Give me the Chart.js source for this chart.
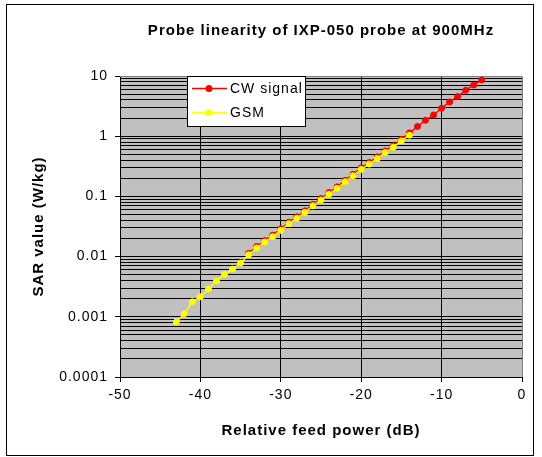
<!DOCTYPE html>
<html>
<head>
<meta charset="utf-8">
<script src="https://cdn.jsdelivr.net/npm/chart.js@4"></script>
<style>
  html, body { margin: 0; padding: 0; background: #ffffff; }
  #wrap { width: 542px; height: 457px; }
</style>
</head>
<body>
<div id="wrap"><canvas id="chart" width="542" height="457"></canvas></div>
<script>
// Relative feed power (dB) and SAR (W/kg)
const cwPower = [-34, -33, -32, -31, -30, -29, -28, -27, -26, -25, -24, -23, -22, -21, -20,
  -19, -18, -17, -16, -15, -14, -13, -12, -11, -10, -9, -8, -7, -6, -5];
const cwSar = [0.0113, 0.0147, 0.0185, 0.0227, 0.0289, 0.0373, 0.0458, 0.0575, 0.074, 0.0921,
  0.116, 0.144, 0.185, 0.233, 0.298, 0.365, 0.453, 0.569, 0.697, 0.886,
  1.135, 1.45, 1.84, 2.25, 2.91, 3.71, 4.55, 5.79, 7.1, 8.59];

const gsmPower = [-43, -42, -41, -40, -39, -38, -37, -36, -35, -34, -33, -32, -31, -30, -29,
  -28, -27, -26, -25, -24, -23, -22, -21, -20, -19, -18, -17, -16, -15, -14];
const gsmSar = [0.00082, 0.00112, 0.00177, 0.00216, 0.0029, 0.00394, 0.00508, 0.00622, 0.00783, 0.0107,
  0.0139, 0.0175, 0.0214, 0.0273, 0.0352, 0.0432, 0.0543, 0.0698, 0.0869, 0.109,
  0.136, 0.175, 0.22, 0.281, 0.344, 0.427, 0.537, 0.658, 0.836, 1.04];

// axis ticks
const xTicks = [-50, -40, -30, -20, -10, 0];
const yDecades = [0.0001, 0.001, 0.01, 0.1, 1, 10];

const seriesNames = ["CW signal", "GSM"];
const seriesColors = ["#ff0000", "#ffff00"];

const chartTitle = "Probe linearity of IXP-050 probe at 900MHz";
const xTitle = "Relative feed power (dB)";
const yTitle = "SAR value (W/kg)";

const FONT = "'Liberation Sans', Arial, sans-serif";

// y ticks: every decade plus 2..9 inside it (no 1.5 step)
const yTicks = [];
yDecades.forEach(function (d, i) {
  yTicks.push(d);
  if (i < yDecades.length - 1) {
    for (let m = 2; m <= 9; m++) yTicks.push(Number((d * m).toPrecision(2)));
  }
});

function isDecade(v) {
  return yDecades.some(function (d) { return Math.abs(v - d) < d * 1e-6; });
}

function toPoints(xs, ys) {
  return xs.map(function (x, i) { return { x: x, y: ys[i] }; });
}

// Plot background, borders, frame, title and legend box
const decorPlugin = {
  id: "decor",
  beforeDraw(chart) {
    const ctx = chart.ctx;
    const a = chart.chartArea;
    // the old spreadsheet text is spaced out a little
    ctx.letterSpacing = "1px";
    ctx.save();
    ctx.fillStyle = "#ffffff";
    ctx.fillRect(0, 0, chart.width, chart.height);
    ctx.fillStyle = "#c0c0c0";
    ctx.fillRect(a.left, a.top, a.right - a.left, a.bottom - a.top);
    // outer frame
    ctx.strokeStyle = "#000000";
    ctx.lineWidth = 1;
    ctx.strokeRect(6.5, 4.5, 527, 451);
    // title
    ctx.fillStyle = "#000000";
    ctx.font = "bold 15px " + FONT;
    ctx.textAlign = "center";
    ctx.textBaseline = "middle";
    ctx.fillText(chartTitle, (a.left + a.right) / 2, 31);
    ctx.restore();
  },
  beforeDatasetsDraw(chart) {
    const ctx = chart.ctx;
    const a = chart.chartArea;
    ctx.save();
    ctx.strokeStyle = "#808080";
    ctx.lineWidth = 1;
    ctx.beginPath();
    ctx.moveTo(a.left, Math.round(a.top) + 0.5);
    ctx.lineTo(Math.round(a.right) + 0.5, Math.round(a.top) + 0.5);
    ctx.lineTo(Math.round(a.right) + 0.5, a.bottom);
    ctx.stroke();
    ctx.restore();
  },
  afterDatasetsDraw(chart) {
    const ctx = chart.ctx;
    const a = chart.chartArea;
    const bx = a.left + 67, by = a.top, bw = 118, bh = 50;
    ctx.save();
    ctx.fillStyle = "#ffffff";
    ctx.fillRect(bx, by, bw, bh);
    ctx.strokeStyle = "#000000";
    ctx.lineWidth = 1;
    ctx.strokeRect(bx + 0.5, by + 0.5, bw, bh);
    ctx.font = "14px " + FONT;
    ctx.textBaseline = "middle";
    ctx.textAlign = "left";
    seriesNames.forEach(function (name, i) {
      const y = by + 12.5 + i * 24;
      ctx.strokeStyle = seriesColors[i];
      ctx.lineWidth = 1.5;
      ctx.beginPath();
      ctx.moveTo(bx + 5, y);
      ctx.lineTo(bx + 40, y);
      ctx.stroke();
      ctx.fillStyle = seriesColors[i];
      ctx.beginPath();
      ctx.arc(bx + 22, y, 3.5, 0, Math.PI * 2);
      ctx.fill();
      ctx.fillStyle = "#000000";
      ctx.fillText(name, bx + 43, y + 0.5);
    });
    ctx.restore();
  }
};

const ctx = document.getElementById("chart").getContext("2d");
const chart = new Chart(ctx, {
  type: "line",
  data: {
    datasets: [
      {
        label: seriesNames[0],
        data: toPoints(cwPower, cwSar),
        borderColor: seriesColors[0],
        backgroundColor: seriesColors[0],
        pointBackgroundColor: seriesColors[0],
        pointBorderColor: seriesColors[0],
        borderWidth: 1.5,
        pointRadius: 3,
        pointBorderWidth: 1,
        order: 1
      },
      {
        label: seriesNames[1],
        data: toPoints(gsmPower, gsmSar),
        borderColor: seriesColors[1],
        backgroundColor: seriesColors[1],
        pointBackgroundColor: seriesColors[1],
        pointBorderColor: seriesColors[1],
        borderWidth: 1.5,
        pointRadius: 3,
        pointBorderWidth: 1,
        order: 0
      }
    ]
  },
  options: {
    responsive: false,
    animation: false,
    layout: { padding: { left: 0, right: 20, top: 76, bottom: 0 } },
    plugins: {
      legend: { display: false },
      title: { display: false },
      tooltip: { enabled: false }
    },
    scales: {
      x: {
        type: "linear",
        min: -50,
        max: 0,
        afterBuildTicks: function (scale) {
          scale.ticks = xTicks.map(function (v) { return { value: v }; });
        },
        afterFit: function (scale) { scale.height = 80; },
        grid: {
          color: function (c) { return c.tick && c.tick.value === 0 ? "rgba(0,0,0,0)" : "#000000"; },
          tickColor: "#000000",
          tickLength: 5,
          lineWidth: 1
        },
        border: { display: true, color: "#000000", width: 1 },
        ticks: {
          color: "#000000",
          font: { family: FONT, size: 14 },
          padding: 5,
          maxRotation: 0,
          autoSkip: false
        },
        title: {
          display: true,
          text: xTitle,
          color: "#000000",
          font: { family: FONT, size: 15, weight: "bold" },
          padding: { top: 0, bottom: 17 }
        }
      },
      y: {
        type: "logarithmic",
        min: 0.0001,
        max: 10,
        afterBuildTicks: function (scale) {
          scale.ticks = yTicks.map(function (v) { return { value: v }; });
        },
        afterFit: function (scale) { scale.width = 120; },
        grid: {
          color: "#000000",
          tickColor: function (c) { return c.tick && isDecade(c.tick.value) ? "#000000" : "rgba(0,0,0,0)"; },
          tickLength: 5,
          lineWidth: 1
        },
        border: { display: true, color: "#000000", width: 1 },
        ticks: {
          color: "#000000",
          font: { family: FONT, size: 14 },
          padding: 7,
          autoSkip: false,
          callback: function (value) {
            return isDecade(value) ? String(Number(value.toPrecision(1))) : "";
          }
        },
        title: {
          display: true,
          text: yTitle,
          color: "#000000",
          font: { family: FONT, size: 15, weight: "bold" },
          padding: { top: 30, bottom: 0 }
        }
      }
    }
  },
  plugins: [decorPlugin]
});
</script>
</body>
</html>
